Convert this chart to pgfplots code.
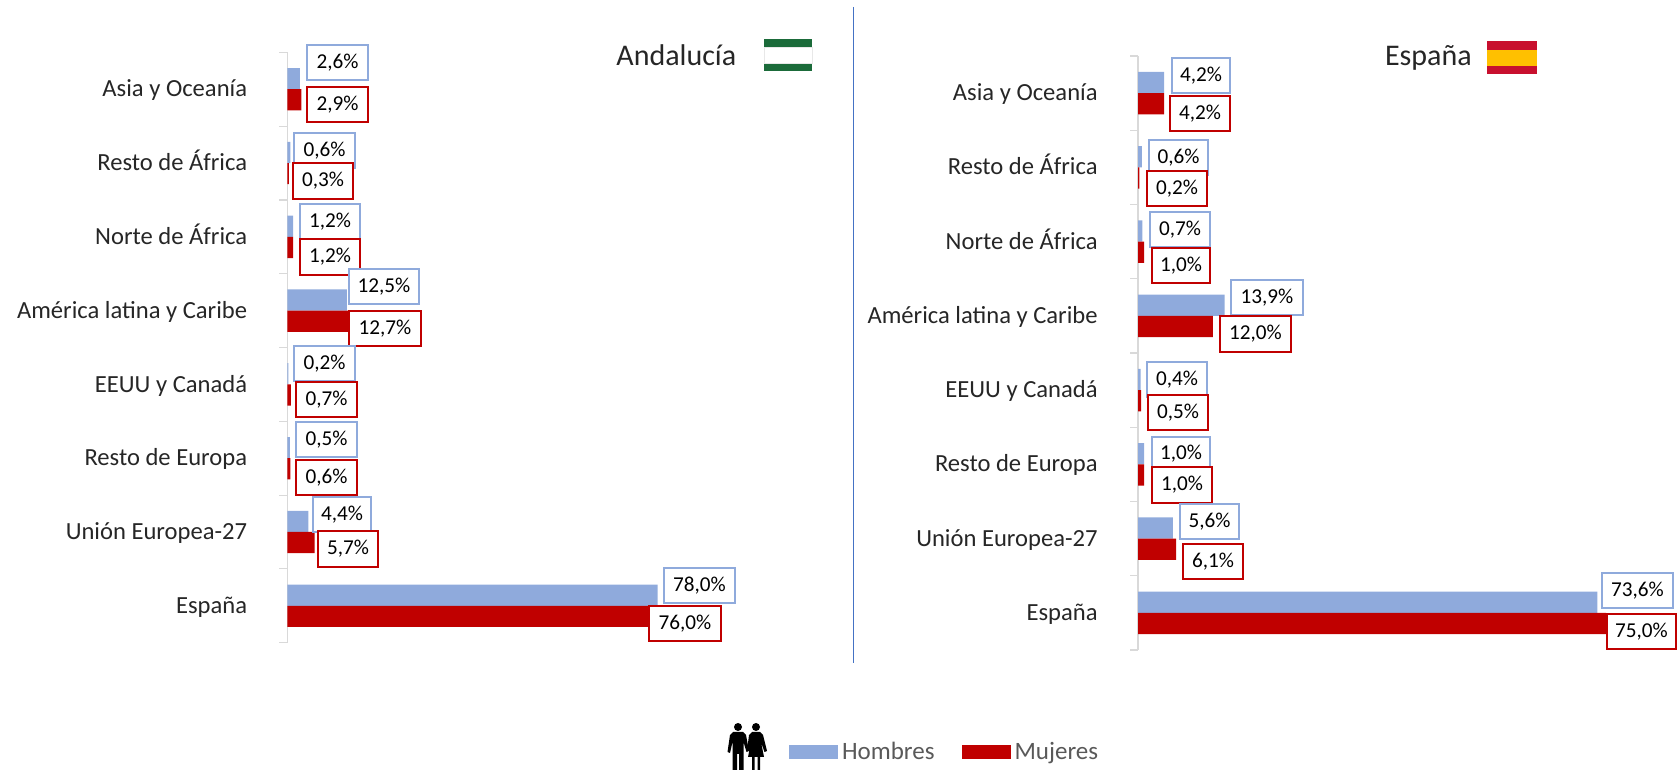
\documentclass[border=0pt]{standalone}
\usepackage{fontspec}
\setmainfont{Carlito}
\usepackage{pgfplots}
\usepackage{pgfplotstable}
\pgfplotsset{compat=1.18}
\definecolor{hom}{HTML}{8FAADC}
\definecolor{muj}{HTML}{C00000}
\definecolor{txt}{HTML}{262626}
\definecolor{leg}{HTML}{595959}
\definecolor{ejeg}{HTML}{D9D9D9}
\definecolor{sep}{HTML}{4472C4}
\definecolor{verde}{HTML}{1B6B3A}
\definecolor{oro}{HTML}{FFC000}
\definecolor{rojoes}{HTML}{C8102E}
% pos 0 = bottom category
\pgfplotstableread{
pos hombres mujeres
0 78.0 76.0
1 4.4 5.7
2 0.5 0.6
3 0.2 0.7
4 12.5 12.7
5 1.2 1.2
6 0.6 0.3
7 2.6 2.9
}\andalucia
\pgfplotstableread{
pos hombres mujeres
0 73.6 75.0
1 5.6 6.1
2 1.0 1.0
3 0.4 0.5
4 13.9 12.0
5 0.7 1.0
6 0.6 0.2
7 4.2 4.2
}\espana
\pgfplotsset{
  panel/.style={
    scale only axis, anchor=south west,
    xmin=0, xmax=80, ymin=-0.5, ymax=7.5,
    xbar, 
    axis x line=none,
    axis y line=left,
    axis line style={ejeg,-,line width=0.6pt},
    ytick={0,...,7},
    yticklabels={España,Unión Europea-27,Resto de Europa,EEUU y Canadá,América latina y Caribe,Norte de África,Resto de África,Asia y Oceanía},
    minor ytick={-0.5,0.5,...,7.5},
    major tick length=0pt, minor tick length=4pt,
    tick align=outside,
    minor tick style={ejeg,line width=0.6pt},
    yticklabel style={font=\fontsize{12.3}{14}\selectfont, text=txt, inner sep=0pt, xshift=-20pt, yshift=-0.9pt,
       text height=8.4pt, text depth=2.6pt},
    clip=false,
  },
  homb/.style={draw=none, fill=hom, bar width=10.6pt, bar shift=5.3pt},
  mujb/.style={draw=none, fill=muj, bar width=10.6pt, bar shift=-5.3pt},
}
\newcommand{\lab}[6]{% x1 y1 x2 y2 colour text
  \node[draw=#5, fill=white, line width=0.7pt, inner sep=0pt, text=black,
        minimum width={(#3-#1)*0.5pt}, minimum height={(#4-#2)*0.5pt},
        font=\fontsize{10.6}{12}\selectfont]
    at ({(#1+#3)*0.25pt},{(771-(#2+#4)*0.5)*0.5pt}) {#6};}
\newcommand{\rect}[5]{\fill[#5] ({#1*0.5pt},{(771-#2)*0.5pt}) rectangle ({#3*0.5pt},{(771-#4)*0.5pt});}
\begin{document}
\begin{tikzpicture}
\useasboundingbox (0,0) rectangle (838.5pt,385.5pt);
\begin{axis}[panel, at={(143.75pt,64.15pt)}, width=189.8pt, height=295.2pt,
  legend style={at={(1.3215,-0.185)}, anchor=west, draw=none, fill=none, inner sep=0pt, outer sep=0pt,
    font=\fontsize{12.5}{14}\selectfont, text=leg, legend columns=2,
    /tikz/every even column/.append style={column sep=11.5pt}},
  legend image code/.code={\fill[#1] (0pt,-3.3pt) rectangle (24.5pt,3.3pt);},
]
\addplot[homb] table[x=hombres,y=pos]{\andalucia};
\addplot[mujb] table[x=mujeres,y=pos]{\andalucia};
\legend{Hombres,Mujeres}
\end{axis}
\begin{axis}[panel, at={(569pt,60.5pt)}, width=249.6pt, height=297pt]
\addplot[homb] table[x=hombres,y=pos]{\espana};
\addplot[mujb] table[x=mujeres,y=pos]{\espana};
\end{axis}
% separator
\draw[sep, line width=0.6pt] (426.6pt,{(771-7)*0.5pt}) -- (426.6pt,{(771-663)*0.5pt});
% titles
\node[text=txt, font=\fontsize{15}{17}\selectfont, inner sep=0pt, anchor=west] at (308pt,{(771-55)*0.5pt}) {Andalucía};
\node[text=txt, font=\fontsize{15}{17}\selectfont, inner sep=0pt, anchor=west] at (692.3pt,{(771-58)*0.5pt}) {España};
% flags
\rect{764}{39}{812}{71}{white}
\rect{764}{39}{812}{47}{verde}
\rect{764}{63}{812}{71}{verde}
\draw[ejeg!60, line width=0.3pt] (382pt,{(771-47)*0.5pt}) rectangle (406pt,{(771-63)*0.5pt});
\rect{1487}{41}{1537}{50}{rojoes}
\rect{1487}{50}{1537}{66}{oro}
\rect{1487}{66}{1537}{74}{rojoes}
% left labels
\lab{307}{45}{368}{80}{hom}{2,6\%}
\lab{307}{87}{368}{122}{muj}{2,9\%}
\lab{294}{133}{355}{168}{hom}{0,6\%}
\lab{293}{163}{353}{199}{muj}{0,3\%}
\lab{300}{204}{360}{239}{hom}{1,2\%}
\lab{300}{239}{360}{275}{muj}{1,2\%}
\lab{349}{269}{419}{304}{hom}{12,5\%}
\lab{349}{311}{421}{346}{muj}{12,7\%}
\lab{294}{346}{355}{381}{hom}{0,2\%}
\lab{296}{382}{357}{417}{muj}{0,7\%}
\lab{296}{422}{357}{457}{hom}{0,5\%}
\lab{296}{460}{357}{495}{muj}{0,6\%}
\lab{313}{497}{371}{532}{hom}{4,4\%}
\lab{318}{531}{378}{567}{muj}{5,7\%}
\lab{664}{568}{735}{603}{hom}{78,0\%}
\lab{649}{606}{721}{641}{muj}{76,0\%}
% right labels
\lab{1172}{58}{1230}{93}{hom}{4,2\%}
\lab{1170}{96}{1230}{131}{muj}{4,2\%}
\lab{1149}{140}{1208}{175}{hom}{0,6\%}
\lab{1147}{171}{1207}{206}{muj}{0,2\%}
\lab{1150}{212}{1210}{247}{hom}{0,7\%}
\lab{1152}{248}{1210}{283}{muj}{1,0\%}
\lab{1231}{280}{1303}{315}{hom}{13,9\%}
\lab{1220}{316}{1291}{352}{muj}{12,0\%}
\lab{1147}{362}{1207}{397}{hom}{0,4\%}
\lab{1148}{395}{1208}{430}{muj}{0,5\%}
\lab{1152}{437}{1210}{471}{hom}{1,0\%}
\lab{1152}{467}{1212}{503}{muj}{1,0\%}
\lab{1180}{504}{1239}{539}{hom}{5,6\%}
\lab{1183}{544}{1243}{579}{muj}{6,1\%}
\lab{1602}{573}{1673}{608}{hom}{73,6\%}
\lab{1607}{614}{1676}{649}{muj}{75,0\%}
% people icon
\begin{scope}[x=0.5pt,y=-0.5pt,yshift=385.5pt]
 \fill[black] (738,727) circle (4);
 \fill[black] (756,727) circle (4);
 % man
 \fill[black] (733,732) -- (743,732) -- (746,735) -- (749,751) -- (746.5,752) -- (743.5,742) -- (743.5,770) -- (739,770) -- (739,754) -- (737,754) -- (737,770) -- (732.5,770) -- (732.5,742) -- (730,753) -- (727.5,752) -- (730,735) -- cycle;
 % woman
 \fill[black] (752,732) -- (760,732) -- (763,735) -- (767,751) -- (764.5,752) -- (761,742) -- (764,757) -- (760,757) -- (760,770) -- (757.5,770) -- (757.5,757) -- (754.5,757) -- (754.5,770) -- (752,770) -- (752,757) -- (748,757) -- (751,742) -- (749,751) -- (747,751) -- (749,735) -- cycle;
\end{scope}
\end{tikzpicture}
\end{document}
